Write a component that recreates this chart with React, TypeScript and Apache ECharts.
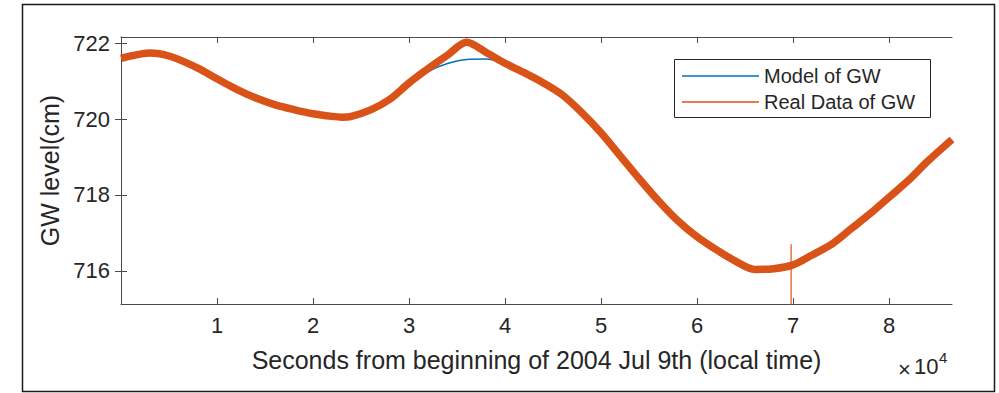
import React, { useEffect, useRef } from "react";
import * as echarts from "echarts";

const timesSec = [0, 1000, 2000, 3000, 4000, 5000, 6000, 8000, 10000, 12000, 14000, 16000, 18000, 20000, 22000, 23000, 24000, 26000, 28000, 30000, 32000, 34000, 36000, 38000, 40000, 42000, 44000, 46000, 48000, 50000, 52000, 54000, 56000, 58000, 60000, 62000, 64000, 66000, 68000, 70000, 72000, 74000, 76000, 78000, 80000, 82000, 84000, 86560];
const realValues = [721.6, 721.66, 721.71, 721.74, 721.72, 721.66, 721.57, 721.34, 721.06, 720.79, 720.56, 720.38, 720.25, 720.14, 720.07, 720.05, 720.07, 720.24, 720.52, 720.95, 721.33, 721.68, 722.02, 721.76, 721.47, 721.22, 720.95, 720.63, 720.17, 719.64, 719.03, 718.42, 717.84, 717.32, 716.9, 716.56, 716.26, 716.04, 716.06, 716.16, 716.42, 716.7, 717.1, 717.5, 717.94, 718.38, 718.88, 719.46];
const modelValues = [721.6, 721.66, 721.71, 721.74, 721.72, 721.66, 721.57, 721.34, 721.06, 720.79, 720.56, 720.38, 720.25, 720.14, 720.07, 720.05, 720.07, 720.24, 720.52, 720.93, 721.25, 721.46, 721.57, 721.58, 721.45, 721.22, 720.95, 720.65, 720.19, 719.64, 719.03, 718.4, 717.8, 717.28, 716.86, 716.51, 716.21, 715.99, 716.0, 716.12, 716.38, 716.66, 717.05, 717.45, 717.89, 718.34, 718.84, 719.46];
const spikeTimes = [69800, 69800];
const spikeValues = [716.7, 715.0];
const xTickValues = [10000, 20000, 30000, 40000, 50000, 60000, 70000, 80000];
const yTickValues = [716, 718, 720, 722];

const FONT = "'Liberation Sans', Arial, sans-serif";
const TXT = "#262626";
const AX = "#4a4a4a";

export default function App() {
  const ref = useRef<HTMLDivElement>(null);
  useEffect(() => {
    const chart = echarts.init(ref.current!, undefined, { renderer: "svg" });
    const pairs = (xs: number[], ys: number[]) => xs.map((x, i) => [x, ys[i]]);
    const baseX = {
      type: "value",
      min: 0,
      max: 86560,
      axisLine: { show: true, lineStyle: { color: AX, width: 1 } },
      splitLine: { show: false },
    };
    const baseY = {
      type: "value",
      min: 715.13,
      max: 722.16,
      axisLine: { show: true, lineStyle: { color: AX, width: 1 } },
      splitLine: { show: false },
    };
    chart.setOption({
      animation: false,
      textStyle: { fontFamily: FONT },
      grid: { left: 121, top: 37, width: 831, height: 267, containLabel: false },
      xAxis: [
        {
          ...baseX,
          position: "bottom",
          name: "Seconds from beginning of 2004 Jul 9th (local time)",
          nameLocation: "middle",
          nameGap: 43,
          nameTextStyle: { fontSize: 25, color: TXT, fontFamily: FONT },
          axisTick: { show: true, inside: true, length: 6, customValues: xTickValues, lineStyle: { color: AX } },
          axisLabel: {
            show: true,
            customValues: xTickValues,
            margin: 10,
            fontSize: 22,
            color: TXT,
            fontFamily: FONT,
            formatter: (v: number) => String(v / 10000),
          },
        },
        {
          ...baseX,
          position: "top",
          axisTick: { show: true, inside: true, length: 6, customValues: xTickValues, lineStyle: { color: AX } },
          axisLabel: { show: false },
        },
      ],
      yAxis: [
        {
          ...baseY,
          position: "left",
          name: "GW level(cm)",
          nameLocation: "middle",
          nameGap: 55,
          nameRotate: 90,
          nameTextStyle: { fontSize: 25, color: TXT, fontFamily: FONT },
          axisTick: { show: true, inside: true, length: 6, customValues: yTickValues, lineStyle: { color: AX } },
          axisLabel: {
            show: true,
            customValues: yTickValues,
            margin: 11,
            fontSize: 22,
            color: TXT,
            fontFamily: FONT,
          },
        },
        {
          ...baseY,
          position: "right",
          axisTick: { show: true, inside: true, length: 6, customValues: yTickValues, lineStyle: { color: AX } },
          axisLabel: { show: false },
        },
      ],
      series: [
        {
          name: "Model of GW",
          type: "line",
          data: pairs(timesSec, modelValues),
          smooth: 0.3,
          showSymbol: false,
          lineStyle: { color: "#0072BD", width: 1.5 },
          z: 2,
        },
        {
          name: "Real Data of GW",
          type: "line",
          data: pairs(timesSec, realValues),
          smooth: 0.3,
          showSymbol: false,
          lineStyle: { color: "#D95319", width: 7.5 },
          z: 3,
        },
        {
          name: "Real Data spike",
          type: "line",
          data: pairs(spikeTimes, spikeValues),
          showSymbol: false,
          lineStyle: { color: "#D95319", width: 1.2 },
          z: 4,
        },
      ],
      graphic: [
        {
          type: "rect",
          shape: { x: 22.5, y: 4.5, width: 972, height: 387 },
          style: { fill: "none", stroke: "#1a1a1a", lineWidth: 1.5 },
          z: 1,
        },
        {
          type: "rect",
          shape: { x: 674.5, y: 59.5, width: 256, height: 58 },
          style: { fill: "#ffffff", stroke: "#262626", lineWidth: 1 },
          z: 10,
        },
        {
          type: "line",
          shape: { x1: 682, y1: 76, x2: 759, y2: 76 },
          style: { stroke: "#0072BD", lineWidth: 1.5 },
          z: 11,
        },
        {
          type: "line",
          shape: { x1: 682, y1: 102, x2: 759, y2: 102 },
          style: { stroke: "#D95319", lineWidth: 1.5 },
          z: 11,
        },
        {
          type: "text",
          x: 764,
          y: 76,
          style: { text: "Model of GW", fill: TXT, fontSize: 20, fontFamily: FONT, verticalAlign: "middle", align: "left" },
          z: 11,
        },
        {
          type: "text",
          x: 764,
          y: 102,
          style: { text: "Real Data of GW", fill: TXT, fontSize: 20, fontFamily: FONT, verticalAlign: "middle", align: "left" },
          z: 11,
        },
        {
          type: "text",
          x: 898,
          y: 369,
          style: { text: "×", fill: TXT, fontSize: 22, fontFamily: FONT, verticalAlign: "middle", align: "left" },
          z: 11,
        },
        {
          type: "text",
          x: 914,
          y: 366,
          style: { text: "10", fill: TXT, fontSize: 22, fontFamily: FONT, verticalAlign: "middle", align: "left" },
          z: 11,
        },
        {
          type: "text",
          x: 939,
          y: 357,
          style: { text: "4", fill: TXT, fontSize: 15, fontFamily: FONT, verticalAlign: "middle", align: "left" },
          z: 11,
        },
      ],
    });
    return () => chart.dispose();
  }, []);
  return (
    <div
      ref={ref}
      style={{ position: "fixed", left: 0, top: 0, width: 999, height: 393, background: "#ffffff" }}
    />
  );
}
